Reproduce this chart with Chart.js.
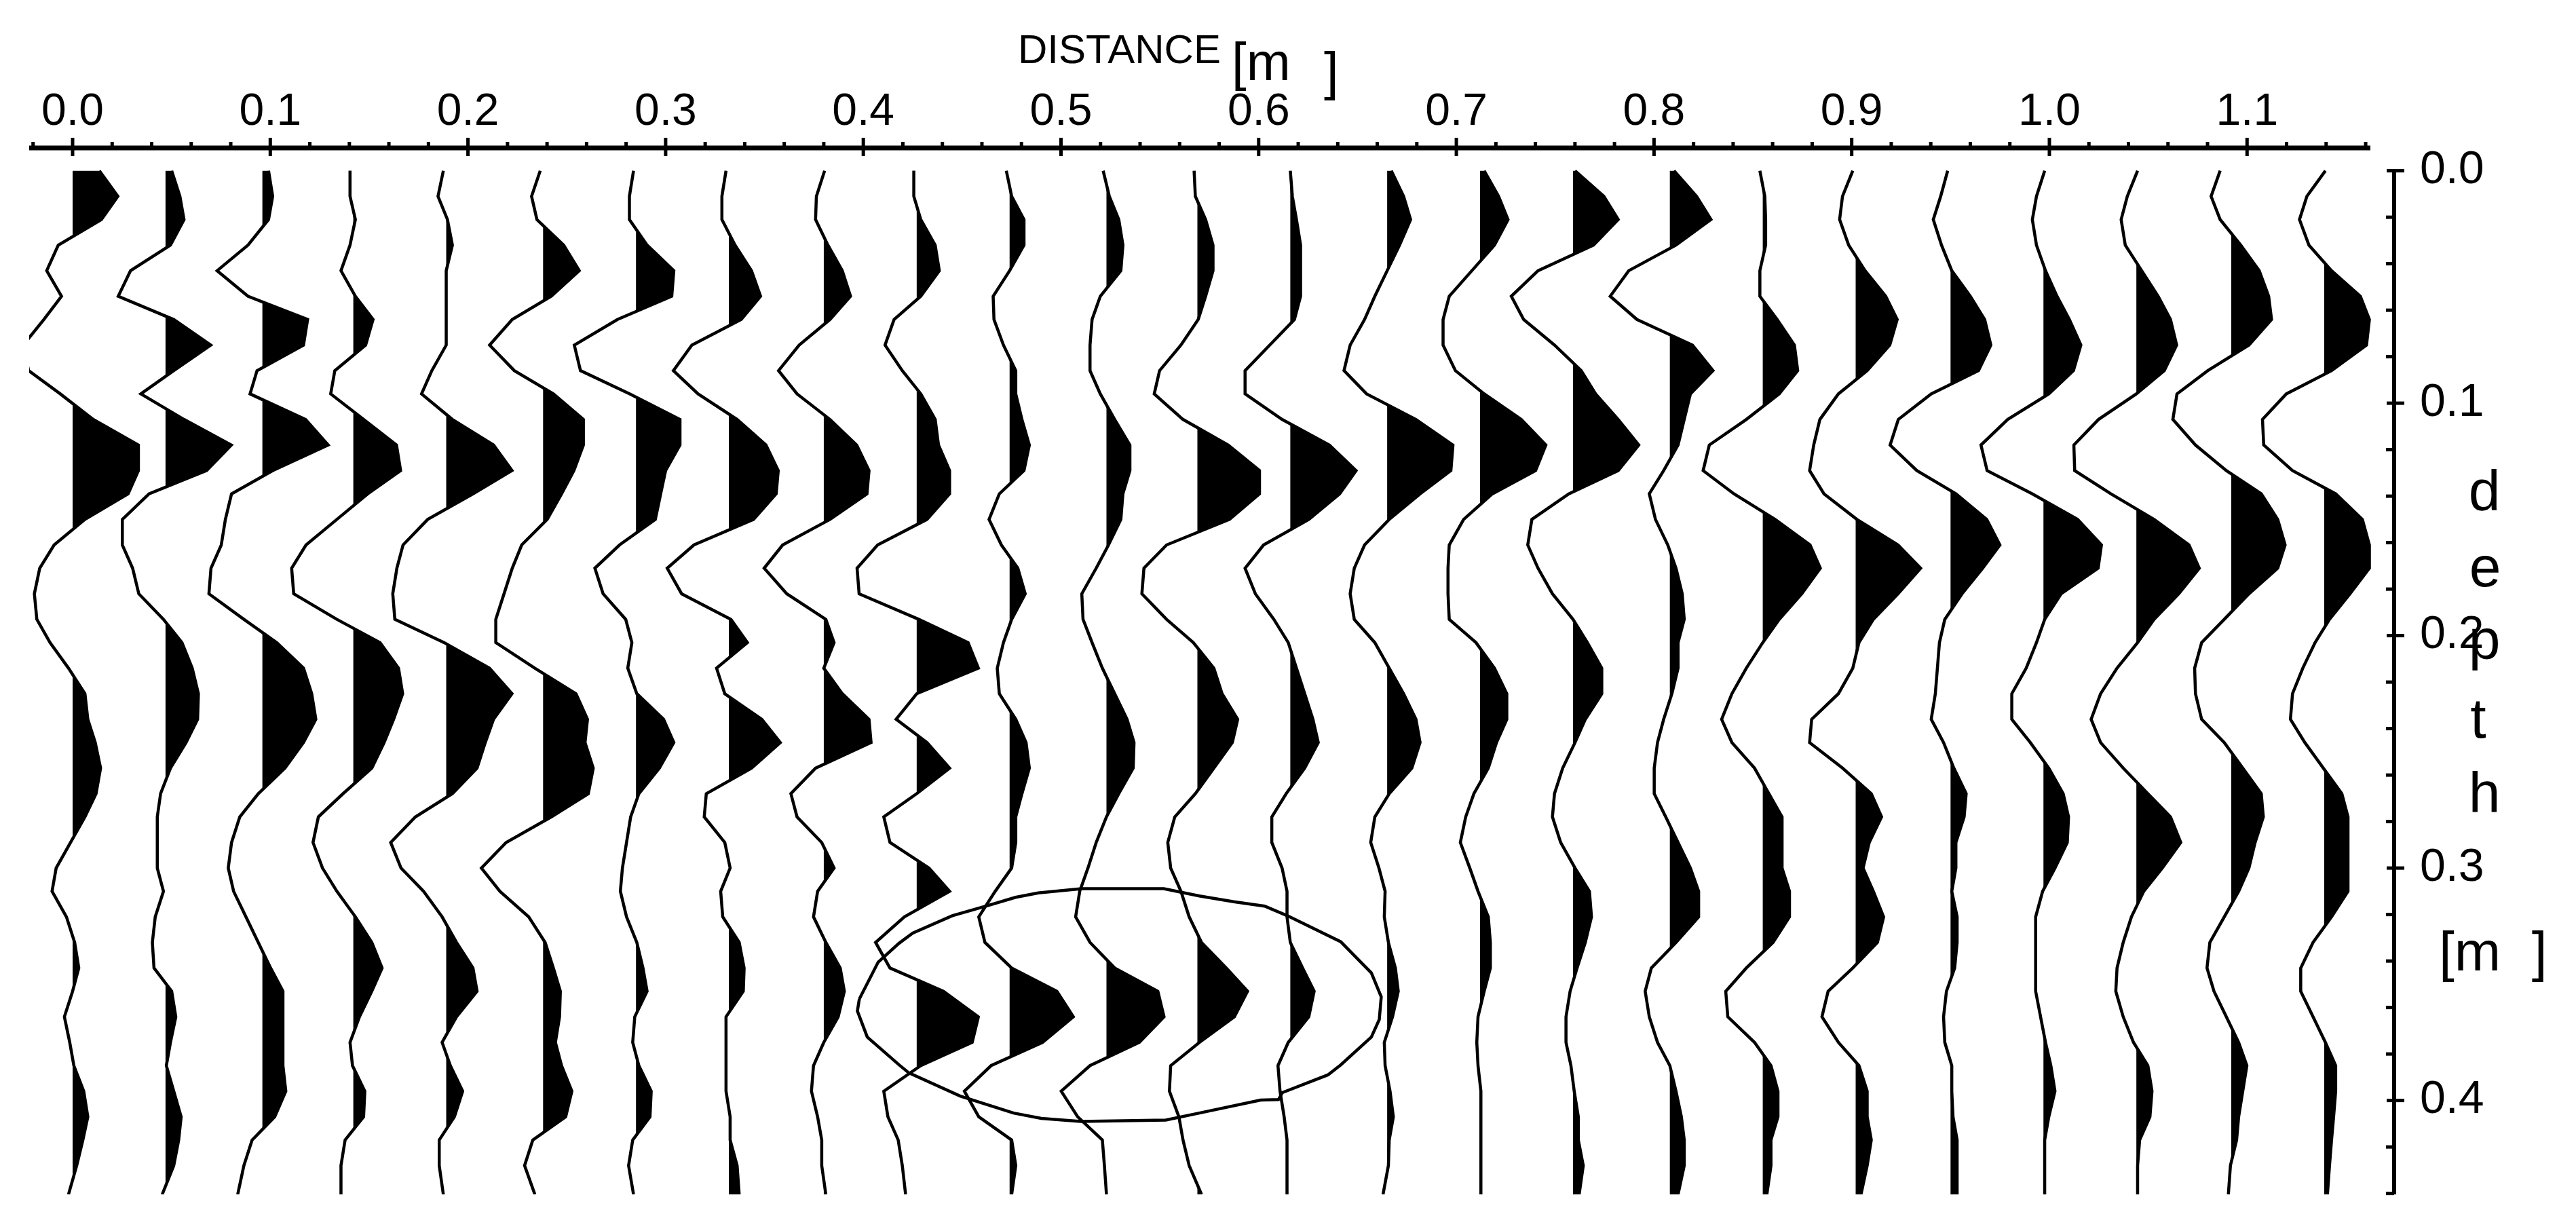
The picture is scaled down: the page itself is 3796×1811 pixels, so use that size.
<!DOCTYPE html>
<html>
<head>
<meta charset="utf-8">
<title>GPR wiggle section</title>
<script src="https://cdn.jsdelivr.net/npm/chart.js@4"></script>
<style>
    html, body { margin: 0; padding: 0; background: #fff; }
    canvas { display: block; }
</style>
</head>
<body>
<canvas id="section" width="3796" height="1811"></canvas>
<script>
const distanceTicks = [0.0, 0.1, 0.2, 0.3, 0.4, 0.5, 0.6, 0.7, 0.8, 0.9, 1.0, 1.1];
const distanceMinor = [-0.02, 0.02, 0.04, 0.06, 0.08, 0.12, 0.14, 0.16, 0.18, 0.22, 0.24, 0.26, 0.28, 0.32, 0.34, 0.36, 0.38,
    0.42, 0.44, 0.46, 0.48, 0.52, 0.54, 0.56, 0.58, 0.62, 0.64, 0.66, 0.68, 0.72, 0.74, 0.76, 0.78, 0.82, 0.84, 0.86, 0.88,
    0.92, 0.94, 0.96, 0.98, 1.02, 1.04, 1.06, 1.08, 1.12, 1.14, 1.16];
const depthTicks = [0.0, 0.1, 0.2, 0.3, 0.4];
const depthMinor = [0.02, 0.04, 0.06, 0.08, 0.12, 0.14, 0.16, 0.18, 0.22, 0.24, 0.26, 0.28, 0.32, 0.34, 0.36, 0.38, 0.42, 0.44];

// antenna position of every trace [m]
const traceDistance = [0.000, 0.047, 0.096, 0.142, 0.189, 0.238, 0.285, 0.332, 0.380, 0.427, 0.474, 0.523, 0.569,
    0.616, 0.665, 0.712, 0.759, 0.808, 0.855, 0.902, 0.950, 0.997, 1.044, 1.092, 1.139];

// depth of every sample [m]
const sampleDepth = [0.000, 0.011, 0.021, 0.032, 0.043, 0.054, 0.064, 0.075, 0.086, 0.096, 0.107, 0.118, 0.129, 0.139,
    0.150, 0.161, 0.171, 0.182, 0.193, 0.203, 0.214, 0.225, 0.236, 0.246, 0.257, 0.268, 0.278, 0.289,
    0.300, 0.310, 0.321, 0.332, 0.343, 0.353, 0.364, 0.375, 0.385, 0.396, 0.407, 0.417, 0.428, 0.4404];

// amplitudes, one row per trace, one value per sampleDepth
const traceAmp = [
    [65,110,70,-35,-63,-27,-70,-120,-107,-30,50,160,160,135,30,-45,-80,-93,-87,-55,-10,30,37,55,68,57,30,-5,-40,-50,-15,5,15,0,-20,-7,3,27,37,25,10,-10],
    [15,35,45,12,-85,-115,20,110,20,-60,45,160,100,-40,-105,-105,-80,-65,-5,40,65,80,78,50,12,-12,-20,-20,-20,-5,-25,-32,-28,15,25,12,2,20,38,32,20,-8],
    [15,25,15,-35,-110,-35,110,100,-13,-30,105,160,25,-75,-90,-100,-125,-130,-45,35,100,120,130,100,55,-10,-55,-75,-83,-70,-40,-10,20,50,50,50,50,57,30,-25,-45,-60],
    [-8,-8,5,-8,-30,5,48,30,-45,-55,25,105,115,35,-40,-115,-150,-145,-40,65,110,120,98,75,45,-25,-85,-98,-75,-40,5,45,70,45,15,-8,-2,28,25,-20,-30,-30],
    [-7,-20,3,15,0,0,0,0,-35,-60,15,115,160,65,-45,-105,-120,-130,-125,-5,105,160,115,95,75,15,-75,-135,-110,-55,-10,25,65,75,25,-10,10,40,20,-17,-17,-7],
    [-7,-28,-15,50,88,20,-75,-130,-70,25,98,98,75,45,10,-52,-75,-95,-115,-115,-20,80,108,102,122,110,20,-90,-150,-105,-35,5,25,42,40,30,45,70,55,-25,-45,-20],
    [-6,-16,-16,27,92,87,-45,-150,-135,-15,107,107,72,60,47,-40,-100,-80,-25,-10,-20,2,67,92,57,7,-13,-23,-33,-38,-23,2,17,27,-3,-8,7,37,34,-8,-18,-6],
    [-7,-17,-17,15,55,77,30,-90,-135,-75,20,90,120,115,60,-85,-150,-115,5,45,-30,-10,80,125,55,-55,-60,-10,3,-20,-15,25,37,35,-7,-7,-7,-7,3,3,20,25],
    [2,-18,-20,10,45,65,15,-60,-110,-65,15,80,110,105,15,-100,-145,-90,5,25,0,45,110,115,-20,-80,-65,-5,25,-15,-25,5,40,50,35,0,-25,-30,-15,-5,-5,5],
    [-7,-7,10,45,55,10,-55,-77,-35,10,45,53,80,80,25,-95,-145,-140,5,125,150,0,-50,25,80,0,-80,-65,30,80,-30,-100,-65,65,150,135,10,-80,-70,-45,-35,-27],
    [-8,5,35,35,0,-40,-38,-15,15,15,30,48,35,-25,-50,-20,20,38,5,-15,-30,-25,15,40,48,30,15,15,5,-35,-75,-60,5,115,155,80,-45,-110,-75,5,15,5],
    [-8,7,30,40,35,-15,-35,-40,-40,-15,20,57,57,40,35,5,-25,-60,-57,-35,-10,20,50,67,65,30,0,-25,-45,-65,-75,-40,20,125,140,80,-40,-110,-70,-10,-5,0],
    [-8,-5,20,38,38,20,2,-40,-92,-105,-35,75,151,151,78,-75,-130,-135,-75,-10,40,60,98,85,40,-5,-55,-72,-65,-40,-20,10,70,122,90,5,-65,-68,-45,-35,-20,10],
    [0,5,15,25,25,25,10,-50,-110,-110,-20,95,160,120,45,-65,-110,-85,-40,-5,15,35,55,68,35,-10,-45,-45,-20,-8,-8,0,30,58,45,-5,-30,-25,-15,-8,-8,-8],
    [10,40,57,30,0,-30,-55,-90,-105,-50,70,160,155,80,5,-55,-80,-90,-80,-30,5,40,70,80,60,5,-30,-40,-20,-5,-7,3,20,27,13,-7,-5,7,15,5,3,-10],
    [10,45,68,35,-20,-75,-90,-90,-60,10,100,160,135,30,-40,-75,-78,-78,-75,-10,35,65,65,40,20,-15,-35,-48,-25,-5,20,25,25,10,-5,-8,-5,2,2,2,2,2],
    [5,75,110,50,-85,-150,-120,-45,20,55,110,160,110,-10,-100,-110,-85,-50,0,35,70,70,30,5,-25,-45,-50,-30,5,40,45,30,10,-7,-17,-17,-5,3,13,13,25,15],
    [10,65,100,15,-100,-145,-80,55,105,50,35,20,-15,-50,-35,-5,15,30,35,20,20,5,-15,-30,-38,-38,-10,20,50,70,70,15,-45,-60,-50,-30,0,15,28,35,35,20],
    [-7,5,7,7,-7,-7,35,77,85,40,-40,-130,-145,-70,30,115,140,95,40,0,-40,-75,-100,-75,-20,15,47,47,47,65,65,25,-40,-90,-85,-20,20,37,37,20,20,10],
    [-7,-32,-39,-17,23,73,101,83,28,-42,-87,-102,-112,-77,3,103,158,103,43,8,-7,-42,-107,-112,-32,38,63,33,18,43,68,53,-7,-67,-82,-42,8,28,28,38,28,13],
    [-7,-24,-42,-22,3,48,83,98,68,-47,-127,-147,-82,13,88,120,78,28,-14,-27,-32,-37,-47,-17,8,38,33,13,13,3,16,16,10,-10,-17,-14,3,3,6,16,16,16],
    [3,-17,-27,-17,5,33,63,91,73,13,-87,-152,-137,-27,83,141,133,43,3,-17,-42,-77,-77,-32,13,48,61,58,28,-2,-19,-19,-19,-19,-7,5,18,28,13,3,3,3],
    [3,-22,-37,-27,13,53,83,98,68,0,-92,-152,-150,-62,43,128,153,103,43,3,-47,-87,-110,-87,-32,28,83,108,63,18,-12,-32,-47,-50,-32,-7,28,38,33,8,3,3],
    [-27,-49,-27,23,68,91,98,43,-57,-132,-142,-87,-12,73,113,131,113,43,-17,-72,-89,-87,-72,-17,28,73,78,58,43,18,-17,-52,-59,-42,-12,18,38,28,18,13,-2,-7],
    [3,-42,-60,-37,18,88,110,103,18,-92,-150,-147,-77,28,93,110,110,63,13,-22,-52,-77,-82,-47,-2,43,58,58,58,58,18,-27,-57,-57,-27,3,28,28,23,18,13,8]
];

// hand-drawn ring around the hyperbola
const ringDistance = [0.398, 0.397, 0.402, 0.418, 0.423, 0.449, 0.476, 0.490, 0.510, 0.553, 0.570, 0.601, 0.610, 0.612, 0.635,
    0.6415, 0.657, 0.661, 0.662, 0.657, 0.6415, 0.6145, 0.603, 0.5874, 0.570, 0.552, 0.5105, 0.4885, 0.477, 0.4636, 0.445,
    0.425, 0.418, 0.4075, 0.398];
const ringDepth = [0.3563, 0.3615, 0.3727, 0.3846, 0.3881, 0.3981, 0.4054, 0.4077, 0.409, 0.4084, 0.4054, 0.3998, 0.3996, 0.3966, 0.389,
    0.3847, 0.3727, 0.3652, 0.3554, 0.3451, 0.3317, 0.3205, 0.3164, 0.3145, 0.312, 0.3089, 0.3089, 0.3107, 0.3126, 0.316, 0.3205,
    0.328, 0.3324, 0.3405, 0.3563];

const GAIN = 0.000208; // metres of deflection per amplitude unit
const FONT = '"Liberation Sans", Arial, sans-serif';

function wigglePoints(base, amps) {
    return amps.map((a, i) => ({ x: base + a * GAIN, y: sampleDepth[i] }));
}

// positive half of a trace only, with the zero crossings put in
function lobePoints(base, amps) {
    const out = [];
    amps.forEach((a, i) => {
        if (i > 0 && amps[i - 1] * a < 0) {
            const t = amps[i - 1] / (amps[i - 1] - a);
            out.push({ x: base, y: sampleDepth[i - 1] + t * (sampleDepth[i] - sampleDepth[i - 1]) });
        }
        out.push({ x: base + Math.max(a, 0) * GAIN, y: sampleDepth[i] });
    });
    return out;
}

const datasets = [];
traceAmp.forEach((amps, i) => {
    const base = traceDistance[i];
    datasets.push({
        data: lobePoints(base, amps),
        indexAxis: 'y',
        borderWidth: 0,
        pointRadius: 0,
        backgroundColor: '#000',
        fill: { value: base }
    });
    datasets.push({
        data: wigglePoints(base, amps),
        indexAxis: 'y',
        borderColor: '#000',
        borderWidth: 4.5,
        pointRadius: 0,
        fill: false
    });
});
datasets.push({
    data: ringDistance.map((d, i) => ({ x: d, y: ringDepth[i] })),
    borderColor: '#000',
    borderWidth: 4.5,
    pointRadius: 0,
    fill: false
});

const sectionFrame = {
    id: 'sectionFrame',
    afterDraw(chart) {
        const { ctx, scales: { x, y } } = chart;
        const axisY = 218, axisX = 3528;
        ctx.save();
        ctx.strokeStyle = '#000';
        ctx.fillStyle = '#000';
        ctx.lineCap = 'butt';

        // distance axis along the top, stops short of the depth axis
        ctx.lineWidth = 7;
        ctx.beginPath();
        ctx.moveTo(43, axisY);
        ctx.lineTo(3493, axisY);
        ctx.stroke();
        ctx.lineWidth = 5;
        distanceTicks.forEach(v => {
            const px = x.getPixelForValue(v);
            ctx.beginPath();
            ctx.moveTo(px, axisY - 15);
            ctx.lineTo(px, axisY + 12);
            ctx.stroke();
        });
        distanceMinor.forEach(v => {
            const px = x.getPixelForValue(v);
            ctx.beginPath();
            ctx.moveTo(px, axisY - 9);
            ctx.lineTo(px, axisY);
            ctx.stroke();
        });

        // depth axis on the right
        ctx.lineWidth = 6;
        ctx.beginPath();
        ctx.moveTo(axisX, y.getPixelForValue(0));
        ctx.lineTo(axisX, chart.chartArea.bottom);
        ctx.stroke();
        ctx.lineWidth = 5;
        depthTicks.forEach(v => {
            const py = y.getPixelForValue(v);
            ctx.beginPath();
            ctx.moveTo(axisX - 11, py);
            ctx.lineTo(axisX + 15, py);
            ctx.stroke();
        });
        depthMinor.forEach(v => {
            const py = y.getPixelForValue(v);
            ctx.beginPath();
            ctx.moveTo(axisX - 12, py);
            ctx.lineTo(axisX, py);
            ctx.stroke();
        });

        // axis names, pasted on by hand in the original
        ctx.textBaseline = 'alphabetic';
        ctx.textAlign = 'left';
        ctx.font = '60px ' + FONT;
        ctx.fillText('DISTANCE', 1500, 93);
        ctx.font = '78px ' + FONT;
        ctx.fillText('[m', 1815, 118);
        ctx.fillText(']', 1951, 132);

        ctx.font = '84px ' + FONT;
        ctx.textAlign = 'center';
        ctx.fillText('d', 3661, 752);
        ctx.fillText('e', 3662, 864);
        ctx.fillText('p', 3661, 971);
        ctx.fillText('t', 3652, 1087);
        ctx.fillText('h', 3661, 1197);
        ctx.textAlign = 'left';
        ctx.font = '82px ' + FONT;
        ctx.fillText('[m  ]', 3594, 1430);
        ctx.restore();
    }
};

new Chart(document.getElementById('section'), {
    type: 'line',
    data: { datasets },
    plugins: [sectionFrame],
    options: {
        responsive: false,
        animation: false,
        events: [],
        layout: { padding: { left: 43, right: 0, top: 0, bottom: 51 } },
        plugins: { legend: { display: false }, tooltip: { enabled: false }, title: { display: false } },
        scales: {
            x: {
                type: 'linear',
                position: 'top',
                min: -0.02197,
                max: 1.1744,
                grid: { display: false, drawTicks: false },
                border: { display: false },
                afterBuildTicks(scale) { scale.ticks = distanceTicks.map(value => ({ value })); },
                afterFit(scale) { scale.height = 218; scale.paddingLeft = 0; scale.paddingRight = 0; },
                ticks: {
                    autoSkip: false,
                    maxRotation: 0,
                    padding: 13,
                    color: '#000',
                    font: { family: FONT, size: 66 },
                    callback: v => v.toFixed(1)
                }
            },
            y: {
                type: 'linear',
                position: 'right',
                reverse: true,
                min: -0.00981,
                max: 0.4404,
                grid: { display: false, drawTicks: false },
                border: { display: false },
                afterBuildTicks(scale) { scale.ticks = depthTicks.map(value => ({ value })); },
                afterFit(scale) { scale.width = 268; scale.paddingTop = 0; scale.paddingBottom = 0; },
                ticks: {
                    autoSkip: false,
                    padding: 38,
                    color: '#000',
                    font: { family: FONT, size: 68 },
                    callback: v => v.toFixed(1)
                }
            }
        }
    }
});
</script>
</body>
</html>
